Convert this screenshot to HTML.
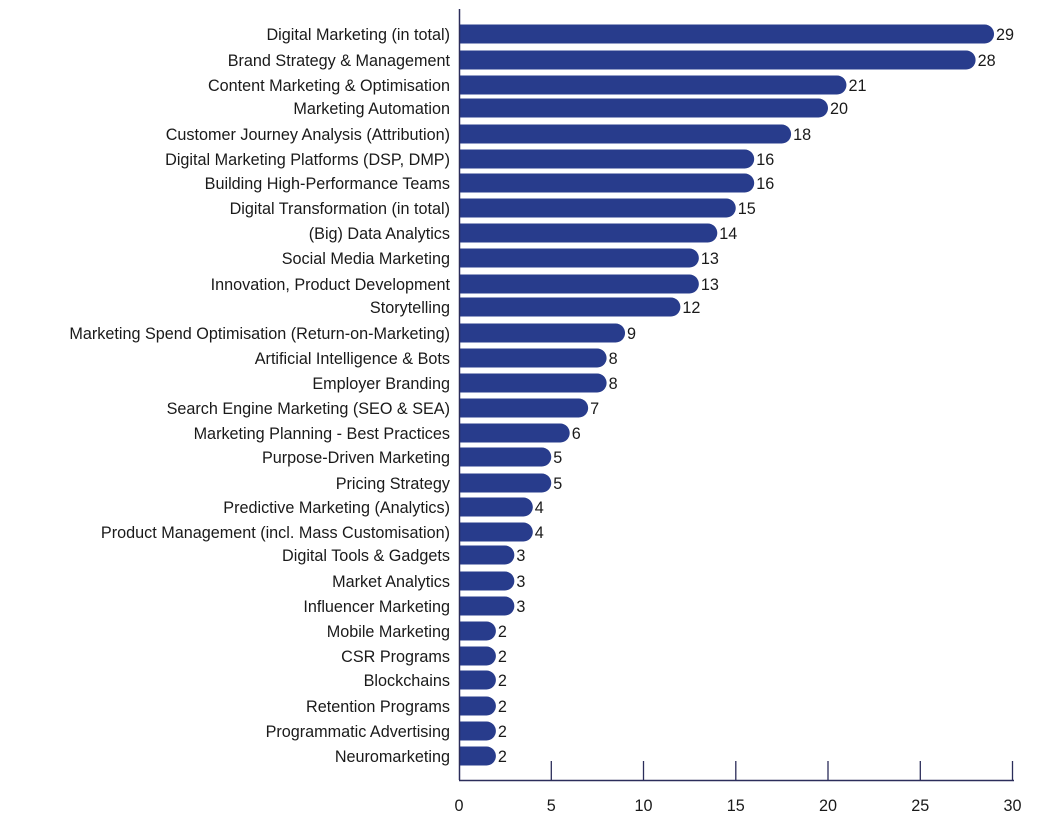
<!DOCTYPE html>
<html><head><meta charset="utf-8"><style>
html,body{margin:0;padding:0;background:#fff;}
svg{display:block;}
text{font-family:"Liberation Sans",Arial,sans-serif;font-size:16.2px;fill:#1a1a1a;}
</style></head><body>
<svg width="1041" height="825" viewBox="0 0 1041 825" xmlns="http://www.w3.org/2000/svg">
<g id="bars"></g>
<line x1="459.5" y1="9" x2="459.5" y2="780" stroke="#2b2d5a" stroke-width="1.5"/>
<line x1="459" y1="780.5" x2="1014" y2="780.5" stroke="#2b2d5a" stroke-width="1.5"/>
<g stroke="#2b2d5a" stroke-width="1.3">
<line x1="551.3" y1="761" x2="551.3" y2="780"/>
<line x1="643.5" y1="761" x2="643.5" y2="780"/>
<line x1="735.8" y1="761" x2="735.8" y2="780"/>
<line x1="828" y1="761" x2="828" y2="780"/>
<line x1="920.3" y1="761" x2="920.3" y2="780"/>
<line x1="1012.5" y1="761" x2="1012.5" y2="780"/>
</g>
<g text-anchor="middle">
<text x="459" y="811">0</text><text x="551.3" y="811">5</text><text x="643.5" y="811">10</text>
<text x="735.8" y="811">15</text><text x="828" y="811">20</text><text x="920.3" y="811">25</text><text x="1012.5" y="811">30</text>
</g>
<g id="labels"></g>
<script>
var d=[["Digital Marketing (in total)",29,34],["Brand Strategy & Management",28,60],["Content Marketing & Optimisation",21,85],["Marketing Automation",20,108],["Customer Journey Analysis (Attribution)",18,134],["Digital Marketing Platforms (DSP, DMP)",16,159],["Building High-Performance Teams",16,183],["Digital Transformation (in total)",15,208],["(Big) Data Analytics",14,233],["Social Media Marketing",13,258],["Innovation, Product Development",13,284],["Storytelling",12,307],["Marketing Spend Optimisation (Return-on-Marketing)",9,333],["Artificial Intelligence & Bots",8,358],["Employer Branding",8,383],["Search Engine Marketing (SEO & SEA)",7,408],["Marketing Planning - Best Practices",6,433],["Purpose-Driven Marketing",5,457],["Pricing Strategy",5,483],["Predictive Marketing (Analytics)",4,507],["Product Management (incl. Mass Customisation)",4,532],["Digital Tools & Gadgets",3,555],["Market Analytics",3,581],["Influencer Marketing",3,606],["Mobile Marketing",2,631],["CSR Programs",2,656],["Blockchains",2,680],["Retention Programs",2,706],["Programmatic Advertising",2,731],["Neuromarketing",2,756]];
var ns="http://www.w3.org/2000/svg",b=document.getElementById("bars"),l=document.getElementById("labels");
d.forEach(function(r){var w=r[1]*18.45,y=r[2];
var p=document.createElementNS(ns,"path");var h=9.5;
p.setAttribute("d","M459 "+(y-h)+"H"+(459+w-h)+"A"+h+" "+h+" 0 0 1 "+(459+w-h)+" "+(y+h)+"H459Z");
p.setAttribute("fill","#283c8c");b.appendChild(p);
var t=document.createElementNS(ns,"text");t.setAttribute("x",450);t.setAttribute("y",y+6);t.setAttribute("text-anchor","end");t.textContent=r[0];l.appendChild(t);
var v=document.createElementNS(ns,"text");v.setAttribute("x",459+w+2);v.setAttribute("y",y+6);v.textContent=r[1];l.appendChild(v);});
</script>
</svg>
</body></html>
